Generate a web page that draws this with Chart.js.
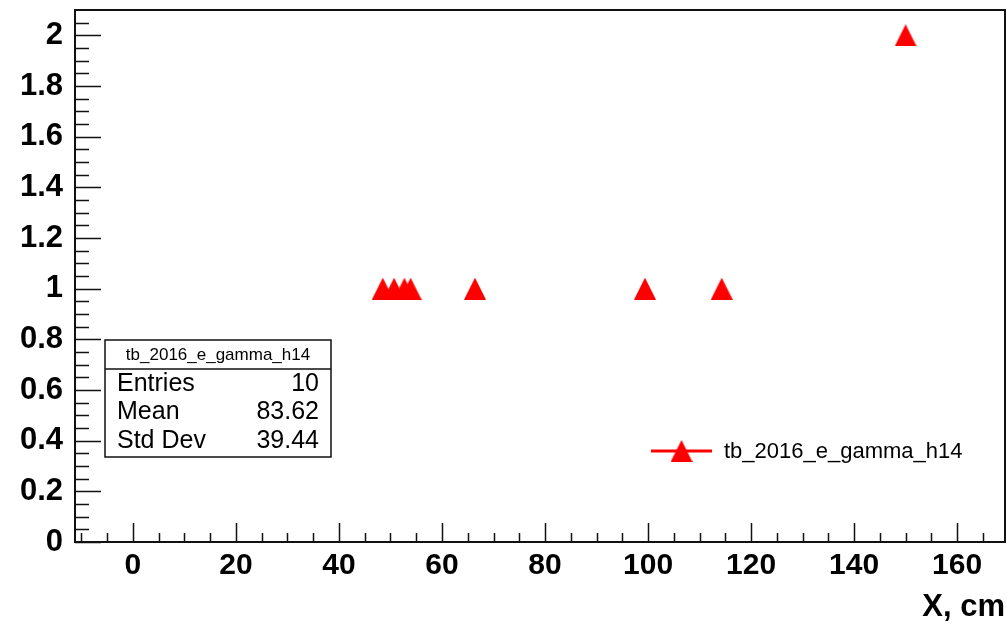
<!DOCTYPE html>
<html>
<head>
<meta charset="utf-8">
<script src="https://cdn.jsdelivr.net/npm/chart.js@4"></script>
<style>
  html, body { margin: 0; padding: 0; background: #fff; }
  canvas { display: block; }
</style>
</head>
<body>
<canvas id="c" width="1007" height="632"></canvas>
<script>
const seriesName = 'tb_2016_e_gamma_h14'
const xValues = [48.5, 50.7, 52.7, 53.9, 66.4, 99.4, 114.3, 150.0]
const yValues = [1, 1, 1, 1, 1, 1, 1, 2]
const xTicks = [0, 20, 40, 60, 80, 100, 120, 140, 160]
const yTicks = [0, 0.2, 0.4, 0.6, 0.8, 1, 1.2, 1.4, 1.6, 1.8, 2]
const statLabels = ['Entries', 'Mean', 'Std Dev']
const statValues = ['10', '83.62', '39.44']

// ROOT-like filled triangle marker
const tri = document.createElement('canvas')
tri.width = 22
tri.height = 22
const tctx = tri.getContext('2d')
tctx.fillStyle = '#ff0000'
tctx.beginPath()
tctx.moveTo(0, 22)
tctx.lineTo(22, 22)
tctx.lineTo(11, 0)
tctx.closePath()
tctx.fill()

const FONT = '"Liberation Sans", Arial, Helvetica, sans-serif'

const rootFrame = {
  id: 'rootFrame',
  beforeDatasetsDraw(chart) {
    const { ctx, chartArea: a, scales: { x, y } } = chart
    ctx.save()
    ctx.strokeStyle = '#111'
    ctx.lineWidth = 1.5
    ctx.beginPath()
    for (let i = -2; i <= 33; i++) {
      const px = Math.round(x.getPixelForValue(i * 5)) + 0.5
      if (px < a.left + 2 || px > a.right - 2) continue
      const len = i % 4 === 0 ? 19 : 9
      ctx.moveTo(px, a.bottom)
      ctx.lineTo(px, a.bottom - len)
    }
    for (let i = 0; i <= 42; i++) {
      const py = Math.round(y.getPixelForValue(i * 0.05)) + 0.5
      if (py < a.top + 2) continue
      const len = i % 4 === 0 ? 26 : 14
      ctx.moveTo(a.left, py)
      ctx.lineTo(a.left + len, py)
    }
    ctx.stroke()
    ctx.lineWidth = 2
    ctx.strokeRect(a.left, a.top, a.width, a.height)
    ctx.restore()
  },
  afterDatasetsDraw(chart) {
    const { ctx } = chart
    ctx.save()
    // stats box
    ctx.fillStyle = '#fff'
    ctx.fillRect(105, 340, 226, 117)
    ctx.strokeStyle = '#111'
    ctx.lineWidth = 1.5
    ctx.strokeRect(105, 340, 226, 117)
    ctx.beginPath()
    ctx.moveTo(105, 369)
    ctx.lineTo(331, 369)
    ctx.stroke()
    ctx.fillStyle = '#000'
    ctx.textBaseline = 'middle'
    ctx.textAlign = 'center'
    ctx.font = '17px ' + FONT
    ctx.fillText(seriesName, 218, 355)
    ctx.font = '25px ' + FONT
    statLabels.forEach((s, i) => {
      const ty = 384 + i * 28.5
      ctx.textAlign = 'left'
      ctx.fillText(s, 117, ty)
      ctx.textAlign = 'right'
      ctx.fillText(statValues[i], 319, ty)
    })
    // legend entry
    ctx.strokeStyle = '#ff0000'
    ctx.lineWidth = 3
    ctx.beginPath()
    ctx.moveTo(651, 451)
    ctx.lineTo(712, 451)
    ctx.stroke()
    ctx.drawImage(tri, 681.5 - 11, 451 - 11)
    ctx.fillStyle = '#000'
    ctx.textAlign = 'left'
    ctx.font = '22px ' + FONT
    ctx.fillText(seriesName, 724, 452)
    ctx.restore()
  }
}

new Chart(document.getElementById('c'), {
  type: 'scatter',
  data: {
    datasets: [
      {
        label: seriesName,
        data: xValues.map((v, i) => ({ x: v, y: yValues[i] })),
        pointStyle: tri,
        pointRadius: 11,
        showLine: false
      }
    ]
  },
  options: {
    responsive: false,
    animation: false,
    devicePixelRatio: 1,
    layout: { autoPadding: false, padding: { top: 10, right: 2, left: 0, bottom: 0 } },
    plugins: {
      legend: { display: false },
      tooltip: { enabled: false }
    },
    scales: {
      x: {
        type: 'linear',
        min: -11.25,
        max: 169.3,
        afterFit: s => {
          s.height = 90
          s.paddingLeft = 0
          s.paddingRight = 0
        },
        afterBuildTicks: s => { s.ticks = xTicks.map(v => ({ value: v })) },
        grid: { display: false, drawTicks: false },
        border: { display: false },
        ticks: {
          color: '#000',
          padding: 6,
          maxRotation: 0,
          autoSkip: false,
          font: { family: FONT, size: 30, weight: 'bold' },
          callback: v => String(v)
        },
        title: {
          display: true,
          text: 'X, cm',
          align: 'end',
          color: '#000',
          padding: { top: 0, bottom: 6 },
          font: { family: FONT, size: 31, weight: 'bold' }
        }
      },
      y: {
        min: 0,
        max: 2.1,
        afterFit: s => {
          s.width = 75
          s.paddingTop = 0
          s.paddingBottom = 0
        },
        afterBuildTicks: s => { s.ticks = yTicks.map(v => ({ value: v })) },
        grid: { display: false, drawTicks: false },
        border: { display: false },
        ticks: {
          color: '#000',
          padding: 12,
          autoSkip: false,
          font: { family: FONT, size: 31, weight: 'bold' },
          callback: v => String(Math.round(v * 10) / 10)
        }
      }
    }
  },
  plugins: [rootFrame]
})
</script>
</body>
</html>
